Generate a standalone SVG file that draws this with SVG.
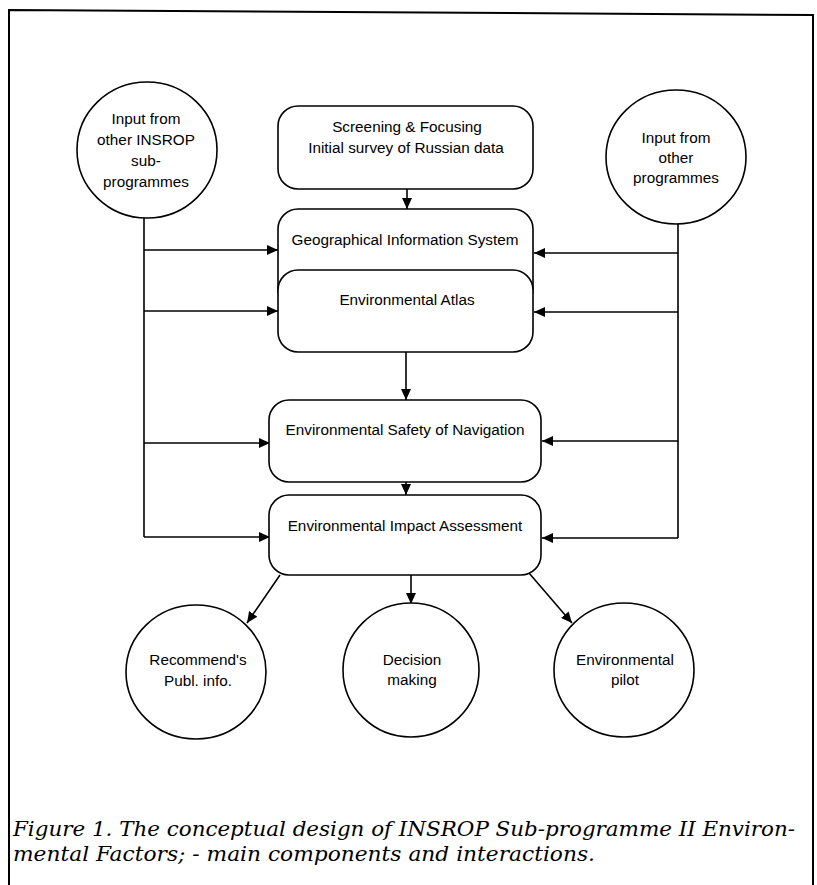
<svg xmlns="http://www.w3.org/2000/svg" width="817" height="885" viewBox="0 0 817 885">
<style>
.n{fill:#fff;stroke:#000;stroke-width:1.6}
.t{font-family:"Liberation Sans",Arial,sans-serif;font-size:15.3px;fill:#000;text-anchor:middle}
.c{fill:none;stroke:#000;stroke-width:1.6}
.cap{font-family:"DejaVu Serif","Liberation Serif",serif;font-style:italic;font-size:20px;fill:#000}
</style>
<defs>
<marker id="ah" markerWidth="12" markerHeight="10" refX="11" refY="5" orient="auto" markerUnits="userSpaceOnUse">
<path d="M0,0 L11,5 L0,10 Z" fill="#000"/>
</marker>
</defs>
<rect width="817" height="885" fill="#fff"/>
<path d="M9,885 V10 L813,15 V885" fill="none" stroke="#000" stroke-width="2"/>

<g id="connectors">
<line class="c" x1="144" y1="218" x2="144" y2="537"/>
<line class="c" x1="678" y1="223" x2="678" y2="538"/>
<line class="c" x1="144" y1="250" x2="278" y2="250" marker-end="url(#ah)"/>
<line class="c" x1="144" y1="311" x2="278" y2="311" marker-end="url(#ah)"/>
<line class="c" x1="144" y1="443" x2="270" y2="443" marker-end="url(#ah)"/>
<line class="c" x1="144" y1="537" x2="270" y2="537" marker-end="url(#ah)"/>
<line class="c" x1="678" y1="253" x2="534" y2="253" marker-end="url(#ah)"/>
<line class="c" x1="678" y1="312" x2="534" y2="312" marker-end="url(#ah)"/>
<line class="c" x1="678" y1="441" x2="542" y2="441" marker-end="url(#ah)"/>
<line class="c" x1="678" y1="538" x2="542" y2="538" marker-end="url(#ah)"/>
<line class="c" x1="407" y1="189" x2="407" y2="209" marker-end="url(#ah)"/>
<line class="c" x1="406" y1="352" x2="406" y2="400" marker-end="url(#ah)"/>
<line class="c" x1="406" y1="482" x2="406" y2="495" marker-end="url(#ah)"/>
<line class="c" x1="280" y1="575" x2="247" y2="623" marker-end="url(#ah)"/>
<line class="c" x1="411" y1="575" x2="411" y2="604" marker-end="url(#ah)"/>
<line class="c" x1="529" y1="573" x2="572" y2="623" marker-end="url(#ah)"/>
</g>

<g id="input-insrop">
<ellipse class="n" cx="147" cy="150" rx="70" ry="68"/>
<text class="t" x="146" y="124">Input from</text>
<text class="t" x="146" y="145">other INSROP</text>
<text class="t" x="146" y="166">sub-</text>
<text class="t" x="146" y="187">programmes</text>
</g>

<g id="input-other">
<ellipse class="n" cx="676" cy="157" rx="70" ry="67"/>
<text class="t" x="676" y="143">Input from</text>
<text class="t" x="676" y="163">other</text>
<text class="t" x="676" y="183">programmes</text>
</g>

<g id="screening">
<rect class="n" x="278" y="106" width="255" height="83" rx="20" ry="20"/>
<text class="t" x="407" y="132">Screening &amp; Focusing</text>
<text class="t" x="406" y="153">Initial survey of Russian data</text>
</g>

<g id="gis">
<rect class="n" x="278" y="209" width="255" height="100" rx="20" ry="20"/>
<text class="t" x="405" y="245">Geographical Information System</text>
</g>

<g id="atlas">
<rect class="n" x="278" y="270" width="255" height="82" rx="20" ry="20"/>
<text class="t" x="407" y="305">Environmental Atlas</text>
</g>

<g id="safety">
<rect class="n" x="269" y="400" width="272" height="82" rx="20" ry="20"/>
<text class="t" x="405" y="435">Environmental Safety of Navigation</text>
</g>

<g id="impact">
<rect class="n" x="269" y="495" width="272" height="80" rx="20" ry="20"/>
<text class="t" x="405" y="531">Environmental Impact Assessment</text>
</g>

<g id="recommend">
<ellipse class="n" cx="196" cy="672" rx="70" ry="67"/>
<text class="t" x="198" y="665">Recommend's</text>
<text class="t" x="198" y="686">Publ. info.</text>
</g>

<g id="decision">
<ellipse class="n" cx="411" cy="670" rx="68" ry="67"/>
<text class="t" x="412" y="665">Decision</text>
<text class="t" x="412" y="685">making</text>
</g>

<g id="pilot">
<ellipse class="n" cx="624" cy="670" rx="70" ry="67"/>
<text class="t" x="625" y="665">Environmental</text>
<text class="t" x="625" y="685">pilot</text>
</g>

<g id="caption">
<text class="cap" x="13" y="836" textLength="782" lengthAdjust="spacingAndGlyphs">Figure 1. The conceptual design of INSROP Sub-programme II Environ-</text>
<text class="cap" x="13" y="861" textLength="582" lengthAdjust="spacingAndGlyphs">mental Factors; - main components and interactions.</text>
</g>
</svg>
